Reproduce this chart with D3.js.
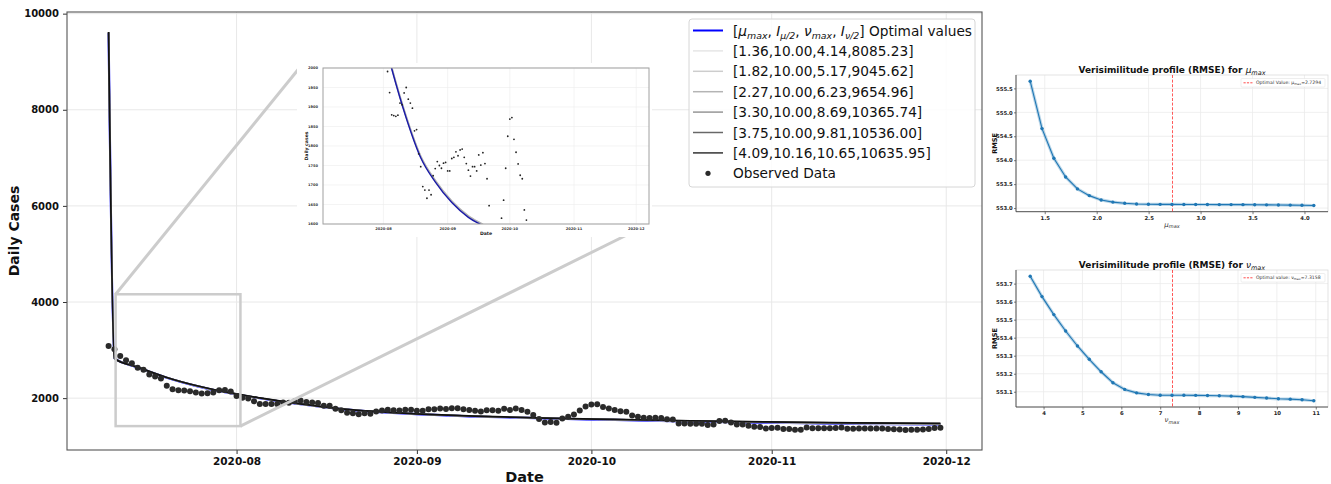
<!DOCTYPE html>
<html>
<head>
<meta charset="utf-8">
<script src="https://cdn.jsdelivr.net/npm/d3@7"></script>
<style>
  body { margin: 0; background: #fff; }
  svg text { font-family: "DejaVu Sans", sans-serif; }
</style>
</head>
<body>
<svg id="fig" width="1331" height="484"></svg>
<script>
// ---------------- data ----------------
// Observed daily cases, one value per day from 2020-07-10 to 2020-11-30
const observedStart = "2020-07-10";
const observedCases = [
  3087, 3018, 2879, 2789, 2727, 2630, 2588, 2492, 2450, 2409,
  2256, 2187, 2166, 2159, 2145, 2118, 2097, 2104, 2118, 2166,
  2170, 2140, 2042, 2007, 1991, 1937, 1880, 1878, 1876, 1879,
  1910, 1906, 1936, 1950, 1920, 1910, 1897, 1839, 1842, 1780,
  1747, 1696, 1687, 1666, 1687, 1675, 1724, 1742, 1760, 1750,
  1743, 1756, 1758, 1736, 1736, 1768, 1771, 1785, 1775, 1790,
  1792, 1771, 1755, 1738, 1723, 1747, 1747, 1736, 1777, 1751,
  1783, 1755, 1716, 1647, 1564, 1495, 1502, 1488, 1578, 1615,
  1661, 1743, 1825, 1869, 1873, 1817, 1784, 1754, 1725, 1716,
  1636, 1610, 1591, 1584, 1591, 1584, 1560, 1557, 1474, 1474,
  1467, 1467, 1467, 1439, 1453, 1522, 1529, 1495, 1453, 1453,
  1425, 1405, 1398, 1370, 1377, 1384, 1356, 1360, 1342, 1342,
  1388, 1375, 1372, 1372, 1375, 1380, 1390, 1365, 1365, 1368,
  1368, 1370, 1370, 1368, 1360, 1355, 1345, 1335, 1342, 1342,
  1348, 1360, 1378, 1384
];

// Model curves sampled at these dates
const fitDates = [
  "2020-07-10", "2020-07-11", "2020-07-15", "2020-07-20", "2020-07-25",
  "2020-07-30", "2020-08-05", "2020-08-12", "2020-08-19", "2020-08-26",
  "2020-09-03", "2020-09-11", "2020-09-18", "2020-09-25", "2020-10-05",
  "2020-10-15", "2020-10-31", "2020-11-15", "2020-11-30"
];
const fitOptimal = [9600, 2830, 2640, 2425, 2255, 2122, 1998, 1872, 1770, 1708, 1655, 1617, 1595, 1572, 1546, 1522, 1490, 1465, 1452];
const fitSet1 = [9600, 2832, 2642, 2427, 2257, 2124, 2000, 1874, 1772, 1710, 1657, 1619, 1597, 1574, 1548, 1524, 1492, 1468, 1455];
const fitSet2 = [9604, 2831, 2642, 2428, 2258, 2125, 2001, 1875, 1773, 1711, 1658, 1620, 1598, 1576, 1551, 1527, 1496, 1472, 1459];
const fitSet3 = [9608, 2829, 2643, 2428, 2259, 2126, 2002, 1876, 1774, 1712, 1659, 1621, 1599, 1577, 1553, 1530, 1499, 1476, 1463];
const fitSet4 = [9612, 2828, 2644, 2429, 2260, 2127, 2003, 1877, 1775, 1713, 1660, 1622, 1600, 1578, 1554, 1532, 1502, 1480, 1467];
const fitSet5 = [9616, 2827, 2644, 2429, 2261, 2128, 2004, 1878, 1776, 1714, 1661, 1623, 1601, 1579, 1555, 1533, 1504, 1483, 1471];
const fitSet6 = [9620, 2825, 2645, 2430, 2262, 2130, 2005, 1880, 1778, 1716, 1663, 1625, 1602, 1580, 1556, 1535, 1505, 1486, 1475];

const fitSetLabels = [
  "[1.36,10.00,4.14,8085.23]",
  "[1.82,10.00,5.17,9045.62]",
  "[2.27,10.00,6.23,9654.96]",
  "[3.30,10.00,8.69,10365.74]",
  "[3.75,10.00,9.81,10536.00]",
  "[4.09,10.16,10.65,10635.95]"
];

const mainYTicks = [2000, 4000, 6000, 8000, 10000];
const monthTicks = ["2020-08-01", "2020-09-01", "2020-10-01", "2020-11-01", "2020-12-01"];

// Region magnified in the inset view
const zoomBoxDates = ["2020-07-11T05:00", "2020-08-01T16:00"];
const zoomBoxCases = [1418, 4161];
const insetCases = [1600, 2000];
const insetYTicks = [1600, 1650, 1700, 1750, 1800, 1850, 1900, 1950, 2000];

// RMSE profiles
const muGrid = [1.360, 1.474, 1.588, 1.701, 1.815, 1.929, 2.043, 2.156, 2.270, 2.384,
                2.498, 2.611, 2.725, 2.839, 2.953, 3.066, 3.180, 3.294, 3.408, 3.521,
                3.635, 3.749, 3.863, 3.976, 4.090];
const muRmse = [555.65, 554.66, 554.04, 553.65, 553.40, 553.26, 553.17, 553.125, 553.10, 553.085,
                553.080, 553.078, 553.077, 553.076, 553.075, 553.074, 553.073, 553.072, 553.071, 553.069,
                553.067, 553.065, 553.062, 553.058, 553.054];
const muTicksX = [1.5, 2.0, 2.5, 3.0, 3.5, 4.0];
const muTicksY = [553.0, 553.5, 554.0, 554.5, 555.0, 555.5];
const muOptimal = 2.7294;

const nuGrid = [3.656, 3.960, 4.264, 4.568, 4.872, 5.176, 5.480, 5.784, 6.088, 6.392,
                6.696, 7.000, 7.304, 7.608, 7.912, 8.216, 8.520, 8.824, 9.128, 9.432,
                9.736, 10.040, 10.344, 10.648, 10.950];
const nuRmse = [553.741, 553.628, 553.528, 553.437, 553.354, 553.280, 553.211, 553.150, 553.113, 553.094,
                553.085, 553.081, 553.081, 553.081, 553.080, 553.079, 553.078, 553.076, 553.073, 553.069,
                553.065, 553.061, 553.059, 553.056, 553.050];
const nuTicksX = [4, 5, 6, 7, 8, 9, 10, 11];
const nuTicksY = [553.1, 553.2, 553.3, 553.4, 553.5, 553.6, 553.7];
const nuOptimal = 7.3158;

// ---------------- helpers ----------------
const parseDay = d3.timeParse("%Y-%m-%d");
const parseStamp = d3.timeParse("%Y-%m-%dT%H:%M");
const t0 = parseDay(observedStart);
const observed = observedCases.map((v, i) => ({ date: d3.timeDay.offset(t0, i), value: v }));
const fDates = fitDates.map(parseDay);
const fitSeries = [fitSet1, fitSet2, fitSet3, fitSet4, fitSet5, fitSet6]
  .map(vals => vals.map((v, i) => ({ date: fDates[i], value: v })));
const optimalSeries = fitOptimal.map((v, i) => ({ date: fDates[i], value: v }));
const grayShades = ["#e6e6e6", "#cdcdcd", "#b4b4b4", "#969696", "#686868", "#333333"];

function padExtent(vals, frac) {
  const [a, b] = d3.extent(vals);
  const p = (b - a) * frac;
  return [a - p, b + p];
}

// Writes mixed text: each piece is [string, italic, subscript]
function richText(sel, pieces, subSize, subDrop) {
  let cur = 0;
  pieces.forEach(([s, it, sub]) => {
    const want = sub ? subDrop : 0;
    const ts = sel.append("tspan").text(s).attr("dy", want - cur);
    if (it) ts.attr("font-style", "italic");
    if (sub) ts.attr("font-size", subSize);
    cur = want;
  });
}

const svg = d3.select("#fig");
svg.append("rect").attr("width", 1331).attr("height", 484).attr("fill", "#fff");

// ---------------- main panel ----------------
const main = { left: 67, right: 982, top: 12, bottom: 450 };
const allDates = observed.map(d => d.date).concat(fDates);
const dateExt = d3.extent(allDates);
const dayPad = (dateExt[1] - dateExt[0]) * 0.05;
const xDomain = [new Date(+dateExt[0] - dayPad), new Date(+dateExt[1] + dayPad)];
const allVals = observedCases.concat(fitOptimal, fitSet1, fitSet2, fitSet3, fitSet4, fitSet5, fitSet6);
const x = d3.scaleTime().domain(xDomain).range([main.left, main.right]);
const y = d3.scaleLinear().domain(padExtent(allVals, 0.05)).range([main.bottom, main.top]);
const months = monthTicks.map(parseDay);

const gMain = svg.append("g");
// grid
gMain.append("g").selectAll("line").data(mainYTicks).join("line")
  .attr("x1", main.left).attr("x2", main.right)
  .attr("y1", d => y(d)).attr("y2", d => y(d))
  .attr("stroke", "#e8e8e8").attr("stroke-width", 1);
gMain.append("g").selectAll("line").data(months).join("line")
  .attr("x1", d => x(d)).attr("x2", d => x(d))
  .attr("y1", main.top).attr("y2", main.bottom)
  .attr("stroke", "#e8e8e8").attr("stroke-width", 1);

// axes
const xAxis = gMain.append("g").attr("transform", `translate(0,${main.bottom})`)
  .call(d3.axisBottom(x).tickValues(months).tickFormat(d3.timeFormat("%Y-%m")).tickSize(4).tickPadding(4));
const yAxis = gMain.append("g").attr("transform", `translate(${main.left},0)`)
  .call(d3.axisLeft(y).tickValues(mainYTicks).tickFormat(d3.format("d")).tickSize(4).tickPadding(4));
[xAxis, yAxis].forEach(a => {
  a.select(".domain").remove();
  a.selectAll(".tick line").attr("stroke", "#333");
  a.selectAll(".tick text").attr("fill", "#111").attr("font-weight", "bold")
    .style("font-family", "DejaVu Sans");
});
xAxis.selectAll(".tick text").attr("font-size", 10.5);
yAxis.selectAll(".tick text").attr("font-size", 10);

// fitted curves
const lineMain = d3.line().x(d => x(d.date)).y(d => y(d.value)).curve(d3.curveMonotoneX);
gMain.append("path").datum(optimalSeries).attr("d", lineMain)
  .attr("fill", "none").attr("stroke", "#0000ff").attr("stroke-width", 2.2);
fitSeries.forEach((s, i) => {
  gMain.append("path").datum(s).attr("d", lineMain)
    .attr("fill", "none").attr("stroke", i === 5 ? "#111" : grayShades[i])
    .attr("stroke-width", i === 5 ? 1.7 : 1.5);
});

// observed points
gMain.append("g").selectAll("circle").data(observed).join("circle")
  .attr("cx", d => x(d.date)).attr("cy", d => y(d.value)).attr("r", 3)
  .attr("fill", "#2a2a2a");

// zoom box
const zbDates = zoomBoxDates.map(parseStamp);
const zx0 = x(zbDates[0]), zx1 = x(zbDates[1]);
const zy0 = y(zoomBoxCases[1]), zy1 = y(zoomBoxCases[0]);
gMain.append("rect").attr("x", zx0).attr("y", zy0)
  .attr("width", zx1 - zx0).attr("height", zy1 - zy0)
  .attr("fill", "none").attr("stroke", "#cccccc").attr("stroke-width", 2.5);

// frame
gMain.append("rect").attr("x", main.left).attr("y", main.top)
  .attr("width", main.right - main.left).attr("height", main.bottom - main.top)
  .attr("fill", "none").attr("stroke", "#555").attr("stroke-width", 1.1);

// axis titles
gMain.append("text").attr("x", (main.left + main.right) / 2).attr("y", 482)
  .attr("text-anchor", "middle").attr("font-weight", "bold").attr("font-size", 14.5)
  .attr("fill", "#111").text("Date");
gMain.append("text").attr("transform", `translate(19,${(main.top + main.bottom) / 2}) rotate(-90)`)
  .attr("text-anchor", "middle").attr("font-weight", "bold").attr("font-size", 14)
  .attr("fill", "#111").text("Daily Cases");

// ---------------- inset view ----------------
const ins = { left: 323, right: 649, top: 68, bottom: 224 };
const insFrame = { left: 297, right: 652, top: 63, bottom: 237 };

// connectors from zoom box to inset
gMain.append("line").attr("x1", zx0).attr("y1", zy0).attr("x2", ins.left - 22).attr("y2", ins.top - 2)
  .attr("stroke", "#cccccc").attr("stroke-width", 3);
gMain.append("line").attr("x1", zx1).attr("y1", zy1).attr("x2", ins.right).attr("y2", ins.bottom)
  .attr("stroke", "#cccccc").attr("stroke-width", 3);

const gIns = svg.append("g");
gIns.append("rect").attr("x", insFrame.left).attr("y", insFrame.top)
  .attr("width", insFrame.right - insFrame.left).attr("height", insFrame.bottom - insFrame.top)
  .attr("fill", "#fff");
const xi = d3.scaleTime().domain(xDomain).range([ins.left, ins.right]);
const yi = d3.scaleLinear().domain(insetCases).range([ins.bottom, ins.top]);
gIns.append("g").selectAll("line").data(insetYTicks).join("line")
  .attr("x1", ins.left).attr("x2", ins.right).attr("y1", d => yi(d)).attr("y2", d => yi(d))
  .attr("stroke", "#ececec").attr("stroke-width", 0.6);
gIns.append("g").selectAll("line").data(months).join("line")
  .attr("x1", d => xi(d)).attr("x2", d => xi(d)).attr("y1", ins.top).attr("y2", ins.bottom)
  .attr("stroke", "#ececec").attr("stroke-width", 0.6);

svg.append("defs").append("clipPath").attr("id", "insClip").append("rect")
  .attr("x", ins.left).attr("y", ins.top).attr("width", ins.right - ins.left).attr("height", ins.bottom - ins.top);
const gInsData = gIns.append("g").attr("clip-path", "url(#insClip)");
const lineIns = d3.line().x(d => xi(d.date)).y(d => yi(d.value)).curve(d3.curveMonotoneX);
fitSeries.slice(0, 3).forEach((s, i) => {
  gInsData.append("path").datum(s).attr("d", lineIns).attr("fill", "none")
    .attr("stroke", grayShades[i]).attr("stroke-width", 1.6);
});
gInsData.append("path").datum(optimalSeries).attr("d", lineIns).attr("fill", "none")
  .attr("stroke", "#1a1aa8").attr("stroke-width", 1.4);
gInsData.selectAll("circle").data(observed.filter(d => d.value >= insetCases[0] && d.value <= insetCases[1]))
  .join("circle").attr("cx", d => xi(d.date)).attr("cy", d => yi(d.value)).attr("r", 0.9)
  .attr("fill", "#222");

gIns.append("rect").attr("x", ins.left).attr("y", ins.top)
  .attr("width", ins.right - ins.left).attr("height", ins.bottom - ins.top)
  .attr("fill", "none").attr("stroke", "#a0a0a0").attr("stroke-width", 1);
gIns.append("g").selectAll("text").data(insetYTicks).join("text")
  .attr("x", ins.left - 5).attr("y", d => yi(d) + 1.2).attr("text-anchor", "end")
  .attr("font-size", 3.6).attr("font-weight", "bold").attr("fill", "#333").text(d => d);
gIns.append("g").selectAll("text").data(months).join("text")
  .attr("x", d => xi(d)).attr("y", ins.bottom + 5.5).attr("text-anchor", "middle")
  .attr("font-size", 3.6).attr("font-weight", "bold").attr("fill", "#333")
  .text(d3.timeFormat("%Y-%m"));
gIns.append("text").attr("x", (ins.left + ins.right) / 2).attr("y", ins.bottom + 11)
  .attr("text-anchor", "middle").attr("font-size", 4.6).attr("font-weight", "bold")
  .attr("fill", "#222").text("Date");
gIns.append("text").attr("transform", `translate(308,${(ins.top + ins.bottom) / 2}) rotate(-90)`)
  .attr("text-anchor", "middle").attr("font-size", 4.6).attr("font-weight", "bold")
  .attr("fill", "#222").text("Daily cases");

// ---------------- legend ----------------
const leg = { left: 689, top: 19, right: 975, bottom: 187 };
const gLeg = svg.append("g");
gLeg.append("rect").attr("x", leg.left).attr("y", leg.top)
  .attr("width", leg.right - leg.left).attr("height", leg.bottom - leg.top)
  .attr("rx", 3).attr("fill", "rgba(255,255,255,0.85)").attr("stroke", "#d6d6d6");
const rowY = i => 30.5 + i * 20.4;
const lx0 = 693, lx1 = 723, tx = 733, legFont = 13.7;
gLeg.append("line").attr("x1", lx0).attr("x2", lx1).attr("y1", rowY(0)).attr("y2", rowY(0))
  .attr("stroke", "#0000ff").attr("stroke-width", 2);
const t0txt = gLeg.append("text").attr("x", tx).attr("y", rowY(0) + 5).attr("font-size", legFont).attr("fill", "#111");
richText(t0txt, [
  ["[", false, false], ["μ", true, false], ["max", true, true], [", ", false, false],
  ["I", true, false], ["μ/2", true, true], [", ", false, false],
  ["ν", true, false], ["max", true, true], [", ", false, false],
  ["I", true, false], ["ν/2", true, true], ["] Optimal values", false, false]
], 9.4, 3);
fitSetLabels.forEach((lab, i) => {
  gLeg.append("line").attr("x1", lx0).attr("x2", lx1).attr("y1", rowY(i + 1)).attr("y2", rowY(i + 1))
    .attr("stroke", grayShades[i]).attr("stroke-width", 1.5);
  gLeg.append("text").attr("x", tx).attr("y", rowY(i + 1) + 5).attr("font-size", legFont)
    .attr("fill", "#111").text(lab);
});
gLeg.append("circle").attr("cx", 708).attr("cy", rowY(7)).attr("r", 2.6).attr("fill", "#2a2a2a");
gLeg.append("text").attr("x", tx).attr("y", rowY(7) + 5).attr("font-size", legFont)
  .attr("fill", "#111").text("Observed Data");

// ---------------- RMSE profile panels ----------------
function profilePanel(box, grid, rmse, ticksX, ticksY, fmtX, optVal, symbol, legendWord) {
  const g = svg.append("g");
  const sx = d3.scaleLinear().domain(padExtent(grid, 0.05)).range([box.left, box.right]);
  const sy = d3.scaleLinear().domain(padExtent(rmse, 0.05)).range([box.bottom, box.top]);
  g.append("g").selectAll("line").data(ticksY).join("line")
    .attr("x1", box.left).attr("x2", box.right).attr("y1", d => sy(d)).attr("y2", d => sy(d))
    .attr("stroke", "#ebebeb").attr("stroke-width", 0.8);
  g.append("g").selectAll("line").data(ticksX).join("line")
    .attr("x1", d => sx(d)).attr("x2", d => sx(d)).attr("y1", box.top).attr("y2", box.bottom)
    .attr("stroke", "#ebebeb").attr("stroke-width", 0.8);

  // light frame on top/right, darker on left/bottom
  g.append("rect").attr("x", box.left).attr("y", box.top)
    .attr("width", box.right - box.left).attr("height", box.bottom - box.top)
    .attr("fill", "none").attr("stroke", "#dcdcdc").attr("stroke-width", 0.8);
  g.append("path").attr("d", `M${box.left},${box.top}V${box.bottom}H${box.right}`)
    .attr("fill", "none").attr("stroke", "#444").attr("stroke-width", 0.9);

  const ax = g.append("g").attr("transform", `translate(0,${box.bottom})`)
    .call(d3.axisBottom(sx).tickValues(ticksX).tickFormat(fmtX).tickSize(2.5).tickPadding(2));
  const ay = g.append("g").attr("transform", `translate(${box.left},0)`)
    .call(d3.axisLeft(sy).tickValues(ticksY).tickFormat(d3.format(".1f")).tickSize(2).tickPadding(1.2));
  [ax, ay].forEach(a => {
    a.select(".domain").remove();
    a.selectAll(".tick line").attr("stroke", "#444").attr("stroke-width", 0.7);
    a.selectAll(".tick text").attr("font-size", 5.3).attr("font-weight", "bold").attr("fill", "#222")
      .style("font-family", "DejaVu Sans");
  });

  // optimal value marker
  g.append("line").attr("x1", sx(optVal)).attr("x2", sx(optVal)).attr("y1", box.top).attr("y2", box.bottom)
    .attr("stroke", "#ff2020").attr("stroke-width", 0.9).attr("stroke-dasharray", "3,1.6")
    .attr("opacity", 0.85);

  const pts = grid.map((v, i) => ({ x: v, y: rmse[i] }));
  const ln = d3.line().x(d => sx(d.x)).y(d => sy(d.y));
  g.append("path").datum(pts).attr("d", ln).attr("fill", "none")
    .attr("stroke", "rgba(31,119,180,0.3)").attr("stroke-width", 3.2);
  g.append("path").datum(pts).attr("d", ln).attr("fill", "none")
    .attr("stroke", "#1f77b4").attr("stroke-width", 1.1);
  g.append("g").selectAll("circle").data(pts).join("circle")
    .attr("cx", d => sx(d.x)).attr("cy", d => sy(d.y)).attr("r", 1.7).attr("fill", "#1f77b4");

  // title
  const cx = (box.left + box.right) / 2;
  const title = g.append("text").attr("x", cx).attr("y", box.top - 2.5).attr("text-anchor", "middle")
    .attr("font-size", 9).attr("font-weight", "bold").attr("fill", "#111");
  title.append("tspan").text("Verisimilitude profile (RMSE) for ");
  title.append("tspan").attr("font-style", "italic").attr("font-weight", "normal").text(symbol);
  title.append("tspan").attr("font-style", "italic").attr("font-weight", "normal")
    .attr("font-size", 6.5).attr("dy", 2).text("max");

  // axis labels
  const xl = g.append("text").attr("x", cx).attr("y", box.bottom + 15).attr("text-anchor", "middle")
    .attr("font-size", 7).attr("fill", "#333").attr("font-style", "italic");
  xl.append("tspan").text(symbol);
  xl.append("tspan").attr("font-size", 5).attr("dy", 1.5).text("max");
  g.append("text").attr("transform", `translate(996.5,${(box.top + box.bottom) / 2}) rotate(-90)`)
    .attr("text-anchor", "middle").attr("font-size", 6.6).attr("font-weight", "bold")
    .attr("fill", "#111").text("RMSE");

  // legend
  const lb = { left: box.right - 87, top: box.top + 3.5, w: 84, h: 8.6 };
  g.append("rect").attr("x", lb.left).attr("y", lb.top).attr("width", lb.w).attr("height", lb.h)
    .attr("rx", 1).attr("fill", "#fff").attr("stroke", "#dddddd").attr("stroke-width", 0.5);
  g.append("line").attr("x1", lb.left + 2.5).attr("x2", lb.left + 12.5)
    .attr("y1", lb.top + lb.h / 2).attr("y2", lb.top + lb.h / 2)
    .attr("stroke", "#ff2020").attr("stroke-width", 0.8).attr("stroke-dasharray", "2.2,1.2");
  const lt = g.append("text").attr("x", lb.left + 15).attr("y", lb.top + lb.h / 2 + 1.6)
    .attr("font-size", 4.6).attr("fill", "#333");
  richText(lt, [[`${legendWord}: ${symbol}`, false, false], ["max", false, true], [`=${optVal.toFixed(4)}`, false, false]], 3.2, 1);
}

profilePanel({ left: 1016, right: 1328, top: 75, bottom: 211.7 }, muGrid, muRmse,
  muTicksX, muTicksY, d3.format(".1f"), muOptimal, "μ", "Optimal Value");
profilePanel({ left: 1016, right: 1328, top: 270, bottom: 407 }, nuGrid, nuRmse,
  nuTicksX, nuTicksY, d3.format("d"), nuOptimal, "ν", "Optimal value");
</script>
</body>
</html>
